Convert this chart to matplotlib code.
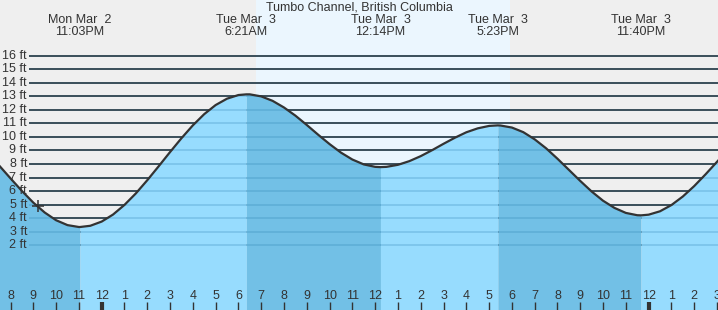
import numpy as np
import matplotlib
matplotlib.use("Agg")
import matplotlib.pyplot as plt
import matplotlib.transforms as mtransforms

plt.rcParams['font.family'] = ['Liberation Sans', 'DejaVu Sans']

# hours since Mon Mar 2 00:00, tide height in ft (read every half hour)
hours = np.arange(19.5, 51.5 + 0.25, 0.5)
heights = [7.89, 6.94, 6.01, 5.15, 4.42, 3.85, 3.49, 3.35,
           3.44, 3.75, 4.27, 4.98, 5.83, 6.80, 7.83, 8.88, 9.90, 10.85,
           11.68, 12.35, 12.82, 13.09,
           13.14, 12.99, 12.66, 12.17, 11.57, 10.88, 10.16, 9.47, 8.84,
           8.33, 7.97, 7.79,
           7.79, 7.94, 8.21, 8.58, 9.02, 9.49, 9.94, 10.34, 10.63, 10.81,
           10.84, 10.69, 10.35, 9.82, 9.16, 8.39, 7.57, 6.75, 5.97, 5.29,
           4.76, 4.39, 4.22,
           4.26, 4.51, 4.97, 5.60, 6.37, 7.24, 8.16, 9.08]

# high / low tides
ext_t = [23.05, 30.35, 36.233, 41.383, 47.667]
ext_h = [3.35, 13.14, 7.77, 10.85, 4.21]
ext_day = ["Mon Mar  2", "Tue Mar  3", "Tue Mar  3", "Tue Mar  3", "Tue Mar  3"]
ext_time = ["11:03PM", "6:21AM", "12:14PM", "5:23PM", "11:40PM"]

sunrise, sunset = 30.77, 41.92
now_t, now_h = 21.19, 4.92
ft_levels = list(range(2, 17))
title = "Tumbo Channel, British Columbia"

W, H = 718, 310
fig = plt.figure(figsize=(W / 100, H / 100), dpi=100)
ax = fig.add_axes([0, 0, 1, 1])
ax.set_axis_off()
x0, x1 = 19.539, 51.044
y0, y1 = -2.775, 20.103
ax.set_xlim(x0, x1)
ax.set_ylim(y0, y1)

night, day = '#efefef', '#ebf6fe'
light, dark = '#97dcfe', '#72c0e6'
ink = '#333333'

ax.axvspan(x0, sunrise, color=night, lw=0, zorder=0)
ax.axvspan(sunrise, sunset, color=day, lw=0, zorder=0)
ax.axvspan(sunset, x1, color=night, lw=0, zorder=0)

bx = mtransforms.blended_transform_factory(ax.transAxes, ax.transData)
ax.hlines(ft_levels, 29 / W, 1, transform=bx, color=ink, lw=1.3, zorder=1)

t_all = np.concatenate([hours, ext_t])
h_all = np.concatenate([heights, ext_h])
order = np.argsort(t_all)
t_all, h_all = t_all[order], h_all[order]

bounds = [t_all[0]] + ext_t + [t_all[-1]]
for i in range(len(bounds) - 1):
    m = (t_all >= bounds[i]) & (t_all <= bounds[i + 1])
    c = dark if i % 2 == 0 else light
    ax.fill_between(t_all[m], h_all[m], y0 - 1, color=c, lw=0, zorder=2)

# grid seen through the water
ax.hlines(ft_levels, 29 / W, 1, transform=bx, color='#2a7fb0', alpha=0.25, lw=1.3, zorder=3)

ax.plot(t_all, h_all, color=ink, lw=1.6, zorder=4, solid_capstyle='round')
ax.plot([now_t], [now_h], marker='+', ms=9, mew=1.1, color=ink, zorder=5)

for lv in ft_levels:
    ax.text(27 / W, lv, "%d ft" % lv, transform=bx, ha='right', va='center',
            fontsize=9, color=ink, zorder=6)

ax.text(0.5, 1 - 7 / H, title, transform=ax.transAxes, ha='center', va='center',
        fontsize=9, color=ink)
bt = mtransforms.blended_transform_factory(ax.transData, ax.transAxes)
for t, d, s in zip(ext_t, ext_day, ext_time):
    ax.text(t, 1 - 20 / H, d, transform=bt, ha='center', va='center', fontsize=9, color=ink)
    ax.text(t, 1 - 32 / H, s, transform=bt, ha='center', va='center', fontsize=9, color=ink)

for hr in range(20, 52):
    h12 = hr % 12
    lab = str(12 if h12 == 0 else h12)
    ax.text(hr, 1 - 296 / H, lab, transform=bt, ha='center', va='center',
            fontsize=9, color=ink, zorder=6)
    lw = 3 if hr % 24 == 0 else 1
    ax.vlines(hr, 0, 8 / H, transform=bt, color=ink, lw=lw, zorder=6)

fig.savefig("out.png", dpi=100)
